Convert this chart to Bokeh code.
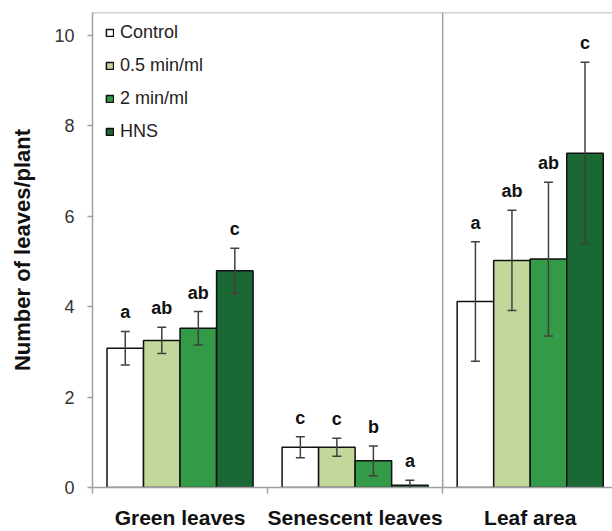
from bokeh.plotting import figure
from bokeh.models import (Range1d, FixedTicker, Span, Whisker, TeeHead,
                          ColumnDataSource, Legend, LegendItem)
from bokeh.core.properties import value
from bokeh.embed import file_html
from bokeh.resources import INLINE

categories = ["Green leaves", "Senescent leaves", "Leaf area"]
treatments = ["Control", "0.5 min/ml", "2 min/ml", "HNS"]
colors = ["#ffffff", "#c4d79b", "#339a48", "#1a6834"]

control_mean = [3.08, 0.89, 4.11]
half_mean = [3.25, 0.89, 5.02]
two_mean = [3.52, 0.59, 5.05]
hns_mean = [4.79, 0.05, 7.39]

control_err = [0.37, 0.23, 1.32]
half_err = [0.29, 0.20, 1.11]
two_err = [0.37, 0.33, 1.70]
hns_err = [0.50, 0.11, 2.01]

control_letters = ["a", "c", "a"]
half_letters = ["ab", "c", "ab"]
two_letters = ["ab", "b", "ab"]
hns_letters = ["c", "a", "c"]

means = [control_mean, half_mean, two_mean, hns_mean]
errs = [control_err, half_err, two_err, hns_err]
letters = [control_letters, half_letters, two_letters, hns_letters]

FONT = "Liberation Sans"
GRAY = "#a0a0a0"
bar_w = 0.2086

p = figure(width=612, height=531, output_backend="svg", toolbar_location=None,
           x_range=Range1d(0, 2.97), y_range=Range1d(0, 10.5),
           min_border_left=92, min_border_right=0, min_border_top=12,
           min_border_bottom=43)
p.outline_line_color = None
p.xgrid.visible = False
p.ygrid.visible = False
p.background_fill_color = "white"

renderers = []
for i, t in enumerate(treatments):
    xs = [c + 0.5 + (i - 1.5) * bar_w for c in range(len(categories))]
    src = ColumnDataSource(dict(
        x=xs, top=means[i],
        upper=[m + e for m, e in zip(means[i], errs[i])],
        lower=[m - e for m, e in zip(means[i], errs[i])],
        letter=letters[i]))
    r = p.vbar(x="x", top="top", bottom=0, width=bar_w, source=src,
               fill_color=colors[i], line_color="#111111", line_width=1.5)
    renderers.append(r)
    w = Whisker(source=src, base="x", upper="upper", lower="lower",
                line_color="#404040", line_width=1.5, level="overlay",
                upper_head=TeeHead(size=9, line_color="#404040", line_width=1.5),
                lower_head=TeeHead(size=9, line_color="#404040", line_width=1.5))
    p.add_layout(w)
    p.text(x="x", y="upper", text="letter", source=src,
           text_font=value(FONT), text_font_style="bold",
           text_font_size="18px", text_color="#111111",
           text_align="center", text_baseline="alphabetic", y_offset=-19)

# frame lines
p.add_layout(Span(location=10.5, dimension="width", line_color=GRAY, line_width=1.5))
p.add_layout(Span(location=2, dimension="height", line_color=GRAY, line_width=1.5))

# y axis
p.yaxis.ticker = FixedTicker(ticks=[0, 2, 4, 6, 8, 10])
p.yaxis.axis_label = "Number of leaves/plant"
p.yaxis.axis_label_text_font = FONT
p.yaxis.axis_label_text_font_style = "bold"
p.yaxis.axis_label_text_font_size = "22px"
p.yaxis.axis_label_text_color = "#111111"
p.yaxis.axis_label_standoff = 16
p.yaxis.major_label_text_font = FONT
p.yaxis.major_label_text_font_size = "18px"
p.yaxis.major_label_text_color = "#333333"
p.yaxis.major_label_standoff = 13
p.yaxis.axis_line_color = GRAY
p.yaxis.axis_line_width = 1.5
p.yaxis.major_tick_line_color = GRAY
p.yaxis.major_tick_line_width = 1.5
p.yaxis.major_tick_in = 0
p.yaxis.major_tick_out = 5
p.yaxis.minor_tick_line_color = None

# x axis
p.xaxis.ticker = FixedTicker(ticks=[0.5, 1.5, 2.5], minor_ticks=[0, 1, 2, 3])
p.xaxis.major_label_overrides = {0.5: categories[0], 1.5: categories[1], 2.5: categories[2]}
p.xaxis.major_label_text_font = FONT
p.xaxis.major_label_text_font_style = "bold"
p.xaxis.major_label_text_font_size = "21px"
p.xaxis.major_label_text_color = "#111111"
p.xaxis.major_label_standoff = 12
p.xaxis.major_tick_line_color = None
p.xaxis.major_tick_in = 0
p.xaxis.major_tick_out = 0
p.xaxis.minor_tick_line_color = GRAY
p.xaxis.minor_tick_line_width = 1.5
p.xaxis.minor_tick_in = 0
p.xaxis.minor_tick_out = 6
p.xaxis.axis_line_color = GRAY
p.xaxis.axis_line_width = 1.5

legend = Legend(items=[LegendItem(label=t, renderers=[r]) for t, r in zip(treatments, renderers)],
                location=(13, 345), orientation="vertical",
                glyph_width=9, glyph_height=9, label_height=20, spacing=12,
                padding=9, margin=0, border_line_color=None,
                background_fill_alpha=0, label_standoff=6,
                label_text_font=FONT, label_text_font_size="18px",
                label_text_color="#222222")
p.add_layout(legend)

open("out.html", "w").write(file_html(p, INLINE))
